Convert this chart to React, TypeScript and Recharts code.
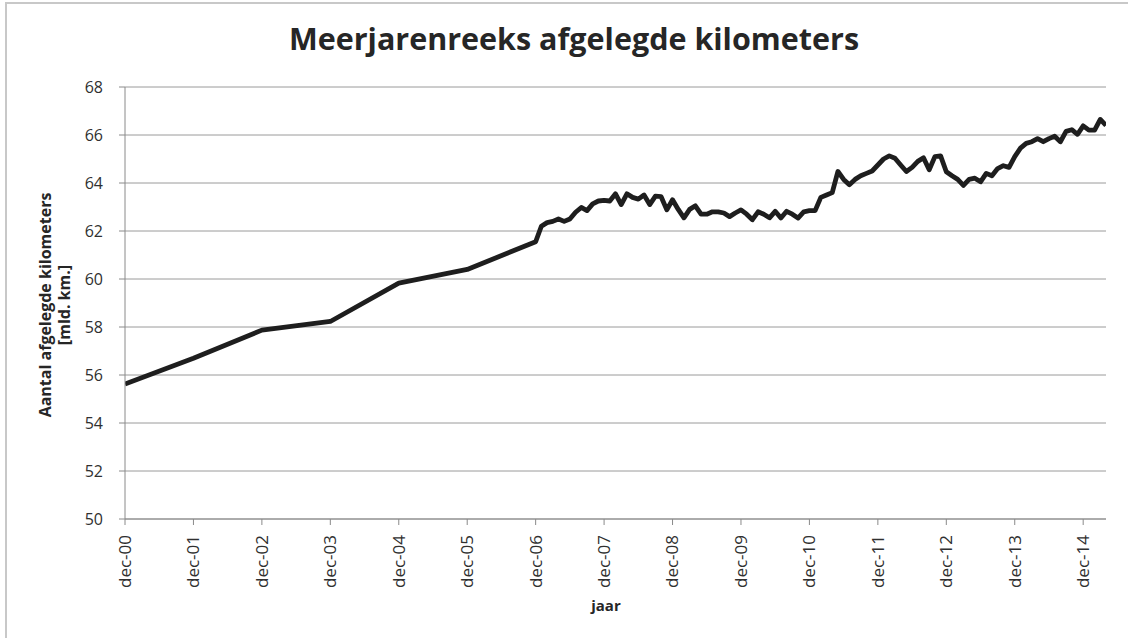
import React from "react";
import { LineChart, Line, XAxis, YAxis, CartesianGrid } from "recharts";

// Month index counted from dec-2000 (0) — yearly points until dec-06, monthly afterwards
const annualMonths = [0, 12, 24, 36, 48, 60, 72];
const annualValues = [55.62, 56.7, 57.87, 58.23, 59.83, 60.4, 61.55];

// Monthly values from jan-07 (month 73) to apr-15 (month 172)
const monthlyStart = 73;
const monthlyValues = [
  62.2, 62.35, 62.4, 62.5, 62.4, 62.5, 62.78, 62.98, 62.85, 63.13, 63.25, 63.28,
  63.25, 63.55, 63.1, 63.55, 63.4, 63.33, 63.5, 63.1, 63.45, 63.43, 62.88, 63.3,
  62.9, 62.55, 62.9, 63.05, 62.7, 62.7, 62.8, 62.8, 62.75, 62.6, 62.75, 62.88,
  62.7, 62.47, 62.8, 62.7, 62.55, 62.82, 62.54, 62.82, 62.7, 62.54, 62.8, 62.85,
  62.85, 63.4, 63.5, 63.6, 64.48, 64.15, 63.93, 64.15, 64.3, 64.4, 64.5, 64.75,
  65.0, 65.13, 65.03, 64.75, 64.48, 64.65, 64.9, 65.05, 64.55, 65.1, 65.13, 64.47,
  64.3, 64.15, 63.9, 64.15, 64.2, 64.05, 64.4, 64.3, 64.6, 64.72, 64.65, 65.1,
  65.45, 65.65, 65.72, 65.85, 65.72, 65.85, 65.95, 65.72, 66.15, 66.22, 66.03, 66.38,
  66.2, 66.2, 66.65, 66.4,
];

const xTickMonths = [0, 12, 24, 36, 48, 60, 72, 84, 96, 108, 120, 132, 144, 156, 168];
const xTickLabels = [
  "dec-00", "dec-01", "dec-02", "dec-03", "dec-04", "dec-05", "dec-06", "dec-07",
  "dec-08", "dec-09", "dec-10", "dec-11", "dec-12", "dec-13", "dec-14",
];
const yTicks = [50, 52, 54, 56, 58, 60, 62, 64, 66, 68];

const data = [
  ...annualMonths.map((m, i) => ({ m, v: annualValues[i] })),
  ...monthlyValues.map((v, i) => ({ m: monthlyStart + i, v })),
];

const FONT = "'Open Sans', 'Liberation Sans', sans-serif";
const TEXT = "#303030";

const XTick = (props: any) => {
  const { x, y, payload } = props;
  const idx = xTickMonths.indexOf(payload.value);
  const ty = y + 8;
  return (
    <text
      x={x}
      y={ty}
      transform={`rotate(-90 ${x} ${ty})`}
      textAnchor="end"
      dy="0.35em"
      fontSize={17}
      fontFamily={FONT}
      fill={TEXT}
    >
      {idx >= 0 ? xTickLabels[idx] : ""}
    </text>
  );
};

const YTick = (props: any) => {
  const { x, y, payload } = props;
  return (
    <text x={x - 14} y={y} textAnchor="end" dy="0.35em" fontSize={16} fontFamily={FONT} fill={TEXT}>
      {payload.value}
    </text>
  );
};

const YLabel = () => (
  <g transform="rotate(-90 54 305)">
    <text x={54} y={305} textAnchor="middle" fontSize={16} fontWeight="bold" fontFamily={FONT} fill="#262626">
      <tspan x={54} dy="-3">Aantal afgelegde kilometers</tspan>
      <tspan x={54} dy="19">[mld. km.]</tspan>
    </text>
  </g>
);

const XLabel = () => (
  <text x={606} y={611} textAnchor="middle" fontSize={15} fontWeight="bold" fontFamily={FONT} fill="#262626">
    jaar
  </text>
);

export default function App() {
  return (
    <div
      style={{
        position: "absolute",
        left: 0,
        top: 0,
        width: 1128,
        height: 638,
        background: "#fff",
        overflow: "hidden",
      }}
    >
      <div
        style={{
          position: "absolute",
          left: 5,
          top: 2,
          width: 1130,
          height: 640,
          boxSizing: "border-box",
          borderTop: "2px solid #c8c8c8",
          borderLeft: "2px solid #c8c8c8",
        }}
      />
      <div
        style={{
          position: "absolute",
          left: 0,
          top: 17,
          width: 1148,
          textAlign: "center",
          fontFamily: FONT,
          fontWeight: "bold",
          fontSize: 30.5,
          color: "#262626",
        }}
      >
        Meerjarenreeks afgelegde kilometers
      </div>
      <div style={{ position: "absolute", left: 0, top: 0 }}>
        <LineChart width={1128} height={638} data={data} margin={{ top: 87, right: 22, bottom: 0, left: 0 }}>
          <CartesianGrid vertical={false} stroke="#9a9a9a" strokeWidth={1} />
          <XAxis
            dataKey="m"
            type="number"
            domain={[0, 172]}
            ticks={xTickMonths}
            interval={0}
            height={119}
            stroke="#8a8a8a"
            tickSize={6}
            tick={<XTick />}
            allowDataOverflow
          />
          <YAxis
            type="number"
            domain={[50, 68]}
            ticks={yTicks}
            interval={0}
            width={125}
            stroke="#8a8a8a"
            tickSize={6}
            tick={<YTick />}
          />
          <Line
            type="linear"
            dataKey="v"
            stroke="#1e1e1e"
            strokeWidth={4.8}
            dot={false}
            isAnimationActive={false}
            strokeLinejoin="round"
          />
          <YLabel />
          <XLabel />
        </LineChart>
      </div>
    </div>
  );
}
